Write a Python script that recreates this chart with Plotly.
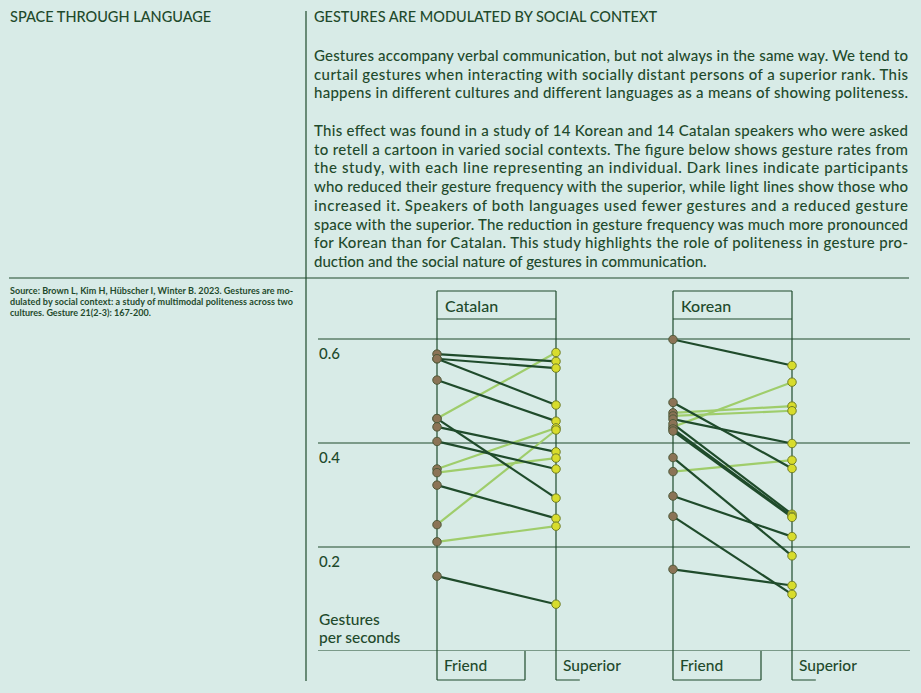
import json
import plotly.graph_objects as go

# ---------------- data ----------------
conditions = ["Friend", "Superior"]
languages = ["Catalan", "Korean"]

catalan_friend = [0.571, 0.562, 0.562, 0.521, 0.447, 0.447, 0.431, 0.403, 0.350, 0.343, 0.319, 0.243, 0.210, 0.144]
catalan_superior = [0.557, 0.544, 0.473, 0.442, 0.574, 0.294, 0.383, 0.350, 0.429, 0.371, 0.255, 0.425, 0.240, 0.090]

korean_friend = [0.599, 0.478, 0.458, 0.452, 0.446, 0.431, 0.437, 0.427, 0.423, 0.372, 0.345, 0.298, 0.259, 0.157]
korean_superior = [0.549, 0.351, 0.471, 0.462, 0.399, 0.517, 0.263, 0.259, 0.257, 0.183, 0.367, 0.220, 0.109, 0.126]

grid_values = [0.0, 0.2, 0.4, 0.6]
tick_values = [0.6, 0.4, 0.2]
tick_labels = ["0.6", "0.4", "0.2"]

header_left = "SPACE THROUGH LANGUAGE"
header_right = "GESTURES ARE MODULATED BY SOCIAL CONTEXT"
paragraph1 = [
    "Gestures accompany verbal communication, but not always in the same way. We tend to",
    "curtail gestures when interacting with socially distant persons of a superior rank. This",
    "happens in different cultures and different languages as a means of showing politeness.",
]
paragraph2 = [
    "This effect was found in a study of 14 Korean and 14 Catalan speakers who were asked",
    "to retell a cartoon in varied social contexts. The figure below shows gesture rates from",
    "the study, with each line representing an individual. Dark lines indicate participants",
    "who reduced their gesture frequency with the superior, while light lines show those who",
    "increased it. Speakers of both languages used fewer gestures and a reduced gesture",
    "space with the superior. The reduction in gesture frequency was much more pronounced",
    "for Korean than for Catalan. This study highlights the role of politeness in gesture pro-",
    "duction and the social nature of gestures in communication.",
]
source_lines = [
    "Source: Brown L, Kim H, Hübscher I, Winter B. 2023. Gestures are mo-",
    "dulated by social context: a study of multimodal politeness across two",
    "cultures. Gesture 21(2-3): 167-200.",
]
y_title = ["Gestures", "per seconds"]

# ---------------- style ----------------
W, H = 921, 693
BG = "#d8ebe7"
INK = "#1f4a2c"
DARK = "#1f4b2b"
LIGHT = "#9fcd6b"
FRIEND_FILL = "#8b7356"
FRIEND_EDGE = "#4f5a3a"
SUP_FILL = "#d8dc2c"
SUP_EDGE = "#6f7d2a"
FONT = "Lato, Roboto, sans-serif"
TEXT_WEIGHT = 500


def px(x):
    return x / W


def py(y):
    return 1 - y / H


fig = go.Figure()

series = {
    "Catalan": (catalan_friend, catalan_superior, "x", "y"),
    "Korean": (korean_friend, korean_superior, "x2", "y"),
}

for lang, (fr, sup, xa, ya) in series.items():
    # light (increase) first, dark (decrease) afterwards
    for want_dark in (False, True):
        for f, s in zip(fr, sup):
            dark = s < f
            if dark != want_dark:
                continue
            fig.add_trace(go.Scatter(
                x=conditions, y=[f, s], xaxis=xa, yaxis=ya, mode="lines",
                line=dict(color=DARK if dark else LIGHT, width=2.2),
                hoverinfo="skip", showlegend=False, cliponaxis=False,
            ))
    fig.add_trace(go.Scatter(
        x=[conditions[0]] * len(fr), y=fr, xaxis=xa, yaxis=ya, mode="markers",
        marker=dict(size=8.5, color=FRIEND_FILL, line=dict(color=FRIEND_EDGE, width=1)),
        showlegend=False, cliponaxis=False,
    ))
    fig.add_trace(go.Scatter(
        x=[conditions[1]] * len(sup), y=sup, xaxis=xa, yaxis=ya, mode="markers",
        marker=dict(size=8.5, color=SUP_FILL, line=dict(color=SUP_EDGE, width=1)),
        showlegend=False, cliponaxis=False,
    ))

shapes = []
line_thin = dict(color=INK, width=1.2)

# layout dividers
shapes.append(dict(type="line", xref="paper", yref="paper", x0=px(306), x1=px(306),
                   y0=py(11), y1=py(681), line=line_thin, layer="below"))
shapes.append(dict(type="line", xref="paper", yref="paper", x0=px(9), x1=px(909),
                   y0=py(278), y1=py(278), line=line_thin, layer="below"))

# horizontal gridlines through the y scale
for g in grid_values:
    shapes.append(dict(type="line", xref="paper", yref="y", x0=px(318), x1=px(910),
                       y0=g, y1=g, line=line_thin, layer="below"))

# vertical condition lines, header boxes and label boxes
box_w = 88 / 119
for xa in ("x", "x2"):
    for i in range(len(conditions)):
        shapes.append(dict(type="line", xref=xa, yref="paper", x0=i, x1=i,
                           y0=py(680), y1=py(291), line=line_thin, layer="below"))
        shapes.append(dict(type="line", xref=xa, yref="paper", x0=i, x1=i + box_w,
                           y0=py(680), y1=py(680), line=line_thin, layer="below"))
        shapes.append(dict(type="line", xref=xa, yref="paper", x0=i + box_w, x1=i + box_w,
                           y0=py(651), y1=py(680), line=line_thin, layer="below"))
    shapes.append(dict(type="line", xref=xa, yref="paper", x0=0, x1=1,
                       y0=py(291), y1=py(291), line=line_thin, layer="below"))
    shapes.append(dict(type="line", xref=xa, yref="paper", x0=0, x1=1,
                       y0=py(319), y1=py(319), line=line_thin, layer="below"))

ann = []
justify = {}  # annotation index -> target text width in px


def text(t, x, y, size, weight=TEXT_WEIGHT, xref="paper", yref="paper", yshift=0, xshift=0, width=None):
    if width is not None:
        justify[len(ann)] = width
    ann.append(dict(text=t, x=x, y=y, xref=xref, yref=yref, xanchor="left", yanchor="middle",
                    align="left", showarrow=False, xshift=xshift, yshift=yshift,
                    font=dict(family=FONT, size=size, color=INK, weight=weight)))


text(header_left, px(8), py(17), 14.5)
text(header_right, px(312), py(17), 14.5)
for i, line in enumerate(paragraph1):
    text(line, px(312), py(55 + i * 18.7), 15, width=594)
for i, line in enumerate(paragraph2):
    last = i == len(paragraph2) - 1
    text(line, px(312), py(130 + i * 18.7), 15, width=None if last else 594)
for i, line in enumerate(source_lines):
    last = i == len(source_lines) - 1
    text(line, px(8), py(290.5 + i * 11.2), 9, weight=700, width=None if last else 283)

for v, lab in zip(tick_values, tick_labels):
    text(lab, px(317), v, 15, yref="y", yshift=-14)
for i, t in enumerate(y_title):
    text(t, px(317), py(619 + i * 18), 15.5)

for xa, lang in zip(("x", "x2"), languages):
    text(lang, 0, py(305), 16, xref=xa, xshift=6)
    for i, c in enumerate(conditions):
        text(c, i, py(665), 15.5, xref=xa, xshift=5)

# axes: y from 0 (px 651) to top of header box (px 291), 520 px per unit
y_top = (651 - 291) / 520
axis_common = dict(showgrid=False, zeroline=False, showline=False, showticklabels=False,
                   ticks="", fixedrange=True)

fig.update_layout(
    width=W, height=H,
    margin=dict(l=0, r=0, t=0, b=0, pad=0),
    paper_bgcolor=BG, plot_bgcolor=BG,
    showlegend=False,
    shapes=shapes,
    annotations=ann,
    xaxis=dict(type="category", categoryarray=conditions, range=[-0.2, 1.2],
               domain=[px(437 - 0.2 * 119), px(556 + 0.2 * 119)], anchor="y", **axis_common),
    xaxis2=dict(type="category", categoryarray=conditions, range=[-0.2, 1.2],
                domain=[px(673 - 0.2 * 119), px(792 + 0.2 * 119)], anchor="y", **axis_common),
    yaxis=dict(range=[0, y_top], domain=[1 - 651 / H, 1 - 291 / H], **axis_common),
)

js = """
document.body.style.margin='0';
document.body.style.background='%s';
var J = %s;
document.querySelectorAll('g.annotation').forEach(function(g){
  var i = g.getAttribute('data-index');
  if (J.hasOwnProperty(i)) {
    var t = g.querySelector('text.annotation-text');
    if (t) { t.setAttribute('textLength', J[i]); t.setAttribute('lengthAdjust', 'spacing'); }
  }
});
""" % (BG, json.dumps({str(k): v for k, v in justify.items()}))

fig.write_html("out.html", config={"displayModeBar": False}, post_script=js)
